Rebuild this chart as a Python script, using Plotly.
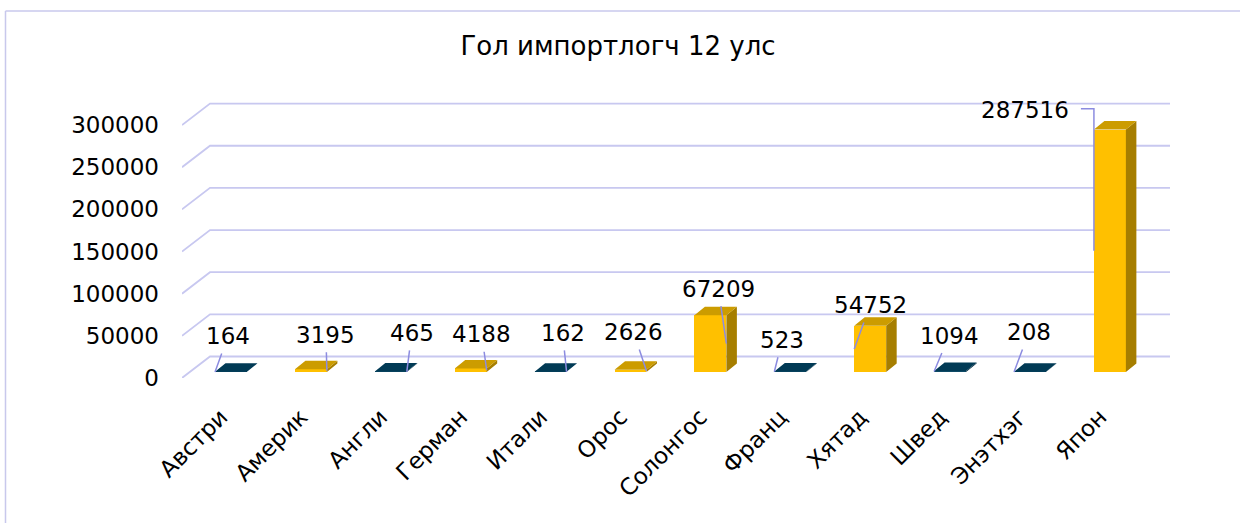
import plotly.graph_objects as go

# ---------------- data ----------------
categories = ["Австри", "Америк", "Англи", "Герман", "Итали", "Орос",
              "Солонгос", "Франц", "Хятад", "Швед", "Энэтхэг", "Япон"]
values = [164, 3195, 465, 4188, 162, 2626, 67209, 523, 54752, 1094, 208, 287516]
bar_group = ["teal", "gold", "teal", "gold", "teal", "gold",
             "gold", "teal", "gold", "teal", "teal", "gold"]
y_tick_values = [0, 50000, 100000, 150000, 200000, 250000, 300000]
y_tick_labels = ["0", "50000", "100000", "150000", "200000", "250000", "300000"]
title_text = "Гол импортлогч 12 улс"

# ---------------- layout constants ----------------
W, H = 1240, 523
PLOT_L, PLOT_R, PLOT_T, PLOT_B = 182, 1170, 95, 378
X0_PX, XSTEP = 231.0, 79.9          # px of first category centre, px per category
YK = 0.843e-3                       # px per value unit

def px_x(d):
    return d / XSTEP

def px_y(d):
    return d / YK

x_range = [px_x(PLOT_L - X0_PX), px_x(PLOT_R - X0_PX)]
y_range = [0, px_y(PLOT_B - PLOT_T)]

BASE = px_y(6)          # bars sit a little behind the front edge of the floor
BAR_W = 0.4
DEPTH_X, DEPTH_Y = px_x(10.5), px_y(8.5)
WALL_X, WALL_Y = px_x(28), px_y(21.5)
LABEL_SHIFT = px_x(-10)  # category labels sit at the front edge of the floor

FONT = "DejaVu Sans"
GRID = "#C8C8F0"
LEADER = "#8C8CE0"
COLORS = {
    "gold": {"front": "#FFC000", "top": "#CC9C00", "side": "#A67E00"},
    "teal": {"front": "#0E4A66", "top": "#013A55", "side": "#002A3E"},
}

idx = list(range(len(categories)))

fig = go.Figure()

# front faces
fig.add_trace(go.Bar(
    x=idx, y=values, base=BASE, width=BAR_W,
    marker=dict(color=[COLORS[g]["front"] for g in bar_group], line=dict(width=0)),
    hoverinfo="skip", showlegend=False,
))

# top and side faces
for grp in ["gold", "teal"]:
    tx, ty, sx, sy = [], [], [], []
    for i, v, g in zip(idx, values, bar_group):
        if g != grp:
            continue
        l, r = i - BAR_W / 2, i + BAR_W / 2
        b, t = BASE, BASE + v
        tx += [l, r, r + DEPTH_X, l + DEPTH_X, l, None]
        ty += [t, t, t + DEPTH_Y, t + DEPTH_Y, t, None]
        sx += [r, r, r + DEPTH_X, r + DEPTH_X, r, None]
        sy += [b, t, t + DEPTH_Y, b + DEPTH_Y, b, None]
    fig.add_trace(go.Scatter(x=sx, y=sy, mode="lines", fill="toself",
                             fillcolor=COLORS[grp]["side"], line=dict(width=0),
                             hoverinfo="skip", showlegend=False))
    fig.add_trace(go.Scatter(x=tx, y=ty, mode="lines", fill="toself",
                             fillcolor=COLORS[grp]["top"], line=dict(width=0),
                             hoverinfo="skip", showlegend=False))

# gridlines on floor edge + back wall
shapes = []
for v in y_tick_values:
    xa = x_range[0]
    path = (f"M {xa},{v} L {xa + WALL_X},{v + WALL_Y} "
            f"L {x_range[1]},{v + WALL_Y}")
    shapes.append(dict(type="path", path=path, xref="x", yref="y",
                       line=dict(color=GRID, width=1.8), layer="below"))

# chart frame (left + top)
shapes.append(dict(type="line", xref="paper", yref="paper",
                   x0=5.5 / W, x1=5.5 / W, y0=0, y1=1 - 11 / H,
                   line=dict(color="#C8C8EC", width=1.5)))
shapes.append(dict(type="line", xref="paper", yref="paper",
                   x0=5.5 / W, x1=1, y0=1 - 11 / H, y1=1 - 11 / H,
                   line=dict(color="#C8C8EC", width=1.5)))

# data labels with leader lines: (side of bar front, ax px, ay px)
label_layout = [(-1, 13, -36), (1, -1, -36), (1, 5, -39), (1, -5, -36),
                (1, -4, -39), (1, -13, -39), (1, -8, -55), (-1, 8, -32),
                (-1, 16, -44), (-1, 15, -36), (-1, 15, -40), None]
annotations = []
for i, v, lay in zip(idx, values, label_layout):
    ey = BASE + v / 2
    if lay is not None:
        side, ax, ay = lay
        annotations.append(dict(
            x=i + side * BAR_W / 2, y=ey, xref="x", yref="y",
            text=str(v), showarrow=True, arrowhead=0, arrowwidth=1.5,
            arrowcolor=LEADER, ax=ax, ay=ay, borderpad=4,
            font=dict(family=FONT, size=23, color="black")))
    else:
        # large bar: label to the left with an elbow leader
        ex = i - BAR_W / 2
        ly = ey + px_y(142)
        fig.add_trace(go.Scatter(
            x=[ex - px_x(13), ex, ex], y=[ly, ly, ey], mode="lines",
            line=dict(color=LEADER, width=1.5), hoverinfo="skip", showlegend=False))
        annotations.append(dict(
            x=ex - px_x(23), y=ly, xref="x", yref="y", text=str(v),
            showarrow=False, xanchor="right", yanchor="middle", yshift=-1,
            font=dict(family=FONT, size=23, color="black")))

fig.update_layout(
    width=W, height=H,
    margin=dict(l=0, r=0, t=0, b=0, pad=0),
    paper_bgcolor="white", plot_bgcolor="rgba(0,0,0,0)",
    font=dict(family=FONT, size=23, color="black"),
    title=dict(text=title_text, x=618 / W, y=1 - 46 / H, xref="container",
               yref="container", xanchor="center", yanchor="middle",
               font=dict(family=FONT, size=26, color="black")),
    xaxis=dict(domain=[PLOT_L / W, PLOT_R / W], range=x_range, automargin=False,
               tickvals=[i + LABEL_SHIFT for i in idx], ticktext=categories,
               tickangle=-45,
               showgrid=False, zeroline=False, showline=False, ticks="",
               ticklabelstandoff=20, fixedrange=True),
    yaxis=dict(domain=[1 - PLOT_B / H, 1 - PLOT_T / H], range=y_range,
               automargin=False,
               tickvals=y_tick_values, ticktext=y_tick_labels,
               showgrid=False, zeroline=False, showline=False, ticks="",
               ticklabelstandoff=22, fixedrange=True),
    shapes=shapes, annotations=annotations,
    bargap=0, showlegend=False,
)

fig.write_html("out.html", config={"displayModeBar": False},
               post_script="document.body.style.margin='0';"
                           "document.body.style.overflow='hidden';")
